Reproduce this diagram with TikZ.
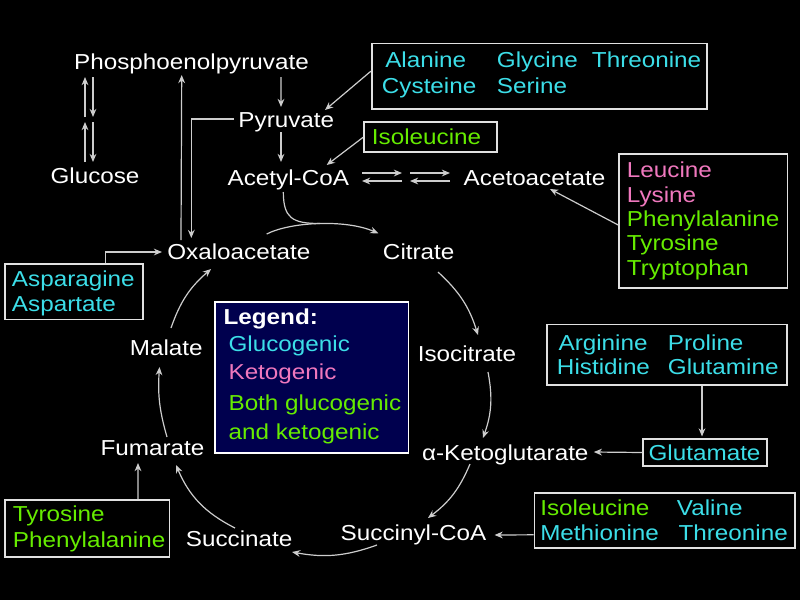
\documentclass[tikz,border=0pt]{standalone}
\usepackage{fontspec}
\setmainfont[FakeStretch=1.12]{Liberation Sans}
\usepackage{tikz}
\usetikzlibrary{arrows.meta,calc}
\definecolor{glucocolor}{RGB}{60,222,232}
\definecolor{ketocolor}{RGB}{240,120,190}
\definecolor{bothcolor}{RGB}{102,236,0}
\definecolor{legendfill}{RGB}{0,0,78}
\definecolor{linegray}{RGB}{205,205,205}
\definecolor{boxgray}{RGB}{225,225,225}
\newlength\pxu
\setlength\pxu{0.025cm}
\newcommand\tcafont{\fontsize{15.4pt}{18pt}\selectfont}

\begin{document}
\begin{tikzpicture}[x=0.025cm, y=-0.025cm,
  metab/.style={text=white, inner sep=0pt, anchor=base, font=\tcafont},
  amino/.style={inner sep=0pt, anchor=base west, font=\tcafont},
  abox/.style={draw=boxgray, line width=1.2pt, inner sep=0pt},
  arr/.style={-{Stealth[length=5.8pt,width=4.8pt]}, draw=linegray, line width=0.85pt},
  lin/.style={draw=linegray, line width=0.85pt}
]
\useasboundingbox (0,0) rectangle (800,600);
\fill[black] (0,0) rectangle (800,600);

% metabolites
\node[metab] (pep) at (191.5,69) {Phosphoenolpyruvate};
\node[metab] (glc) at (95,183) {Glucose};
\node[metab] (pyr) at (286.3,127) {Pyruvate};
\node[metab] (acoa) at (288.3,185) {Acetyl-CoA};
\node[metab] (aca) at (534.5,185.5) {Acetoacetate};
\node[metab] (oaa) at (238.8,259) {Oxaloacetate};
\node[metab] (cit) at (418.7,259) {Citrate};
\node[metab] (icit) at (467,361.7) {Isocitrate};
\node[metab] (akg) at (505.3,460) {α-Ketoglutarate};
\node[metab] (scoa) at (413.5,540.7) {Succinyl-CoA};
\node[metab] (succ) at (239.2,546.7) {Succinate};
\node[metab] (fum) at (152.5,455) {Fumarate};
\node[metab] (mal) at (166.3,355) {Malate};

% amino acid boxes
\node[abox, minimum width=335\pxu, minimum height=65.7\pxu] (agtbox) at (539.2,76.2) {};
\node[amino, text=glucocolor] (ala) at (385,67.7) {Alanine};
\node[amino, text=glucocolor] (gly) at (496.7,67.7) {Glycine};
\node[amino, text=glucocolor] (thra) at (591.7,67.7) {Threonine};
\node[amino, text=glucocolor] (cys) at (381.7,93.3) {Cysteine};
\node[amino, text=glucocolor] (ser) at (496.7,93.3) {Serine};

\node[abox, minimum width=132.7\pxu, minimum height=30\pxu] (ilebox) at (430.3,137.3) {};
\node[amino, text=bothcolor] (ilea) at (371.7,144.3) {Isoleucine};

\node[abox, minimum width=168.3\pxu, minimum height=134\pxu] (llptbox) at (703.2,221.3) {};
\node[amino, text=ketocolor] (leu) at (626.7,177.7) {Leucine};
\node[amino, text=ketocolor] (lys) at (626.7,202.7) {Lysine};
\node[amino, text=bothcolor] (phea) at (626.7,226.7) {Phenylalanine};
\node[amino, text=bothcolor] (tyra) at (626.7,250.7) {Tyrosine};
\node[amino, text=bothcolor] (trp) at (626.7,275) {Tryptophan};

\node[abox, minimum width=137.7\pxu, minimum height=55.3\pxu] (aspbox) at (73.9,291.7) {};
\node[amino, text=glucocolor] (asn) at (11.7,286.7) {Asparagine};
\node[amino, text=glucocolor] (asp) at (11.7,311.7) {Aspartate};

\node[abox, minimum width=239.4\pxu, minimum height=60.7\pxu] (argbox) at (667,354.7) {};
\node[amino, text=glucocolor] (arg) at (558.3,350) {Arginine};
\node[amino, text=glucocolor] (his) at (556.7,374) {Histidine};
\node[amino, text=glucocolor] (pro) at (667.7,350) {Proline};
\node[amino, text=glucocolor] (gln) at (667.7,374) {Glutamine};

\node[abox, minimum width=123.4\pxu, minimum height=26.4\pxu] (glubox) at (705,452.5) {};
\node[amino, text=glucocolor] (glu) at (648.3,460) {Glutamate};

\node[abox, minimum width=260.7\pxu, minimum height=55\pxu] (ivmtbox) at (664.7,520.8) {};
\node[amino, text=bothcolor] (ileb) at (540,515) {Isoleucine};
\node[amino, text=glucocolor] (val) at (676.7,515) {Valine};
\node[amino, text=glucocolor] (metaa) at (540,540.7) {Methionine};
\node[amino, text=glucocolor] (thrb) at (678.3,540.7) {Threonine};

\node[abox, minimum width=164.3\pxu, minimum height=56.7\pxu] (tyrbox) at (87.2,528.3) {};
\node[amino, text=bothcolor] (tyrb) at (12.7,521.7) {Tyrosine};
\node[amino, text=bothcolor] (pheb) at (12.7,547.3) {Phenylalanine};

% legend
\node[abox, draw=white, fill=legendfill, minimum width=193.3\pxu, minimum height=151\pxu] (legbox) at (311.7,377.2) {};
\node[amino, text=white, font=\tcafont\bfseries] (leg) at (223.3,324) {Legend:};
\node[amino, text=glucocolor] (lglu) at (228.3,351.7) {Glucogenic};
\node[amino, text=ketocolor] (lket) at (228.3,379) {Ketogenic};
\node[amino, text=bothcolor] (lbotha) at (228.3,410.7) {Both glucogenic};
\node[amino, text=bothcolor] (lbothb) at (228.3,439.3) {and ketogenic};

% glucose <-> PEP
\draw[arr] ($(pep.base)+(-106.5,48)$) -- ($(pep.base)+(-106.5,8)$);
\draw[arr] ($(pep.base)+(-98.5,8)$) -- ($(pep.base)+(-98.5,48)$);
\draw[arr] ($(glc.base)+(-10,-21)$) -- ($(glc.base)+(-10,-61)$);
\draw[arr] ($(glc.base)+(-2,-61)$) -- ($(glc.base)+(-2,-21)$);

% PEP, pyruvate, acetyl-CoA
\draw[arr] ($(pep.base)+(89.5,8)$) -- ($(pyr.base)+(-5.3,-20)$);
\draw[arr] ($(pyr.base)+(-5.3,5)$) -- ($(acoa.base)+(-7.3,-23)$);
\draw[arr] ($(oaa.base)+(-57.8,-19)$) -- ($(pep.base)+(-9.8,6)$);
\draw[arr] ($(pyr.base west)+(-4,-8)$) -| ($(oaa.base)+(-47.5,-21)$);
\draw[arr] ($(agtbox.west)+(0,-5)$) -- ($(pyr.base)+(38.7,-17)$);
\draw[arr] (ilebox.west) -- ($(acoa.base)+(38.4,-20)$);

% acetyl-CoA <-> acetoacetate
\foreach \dx in {73.7,121.7} {
  \draw[arr] ($(acoa.base)+(\dx,-12)$) -- ++(40,0);
  \draw[arr] ($(acoa.base)+(\dx+40,-4)$) -- ++(-40,0);
}
\draw[arr] ($(llptbox.west)+(0,3.7)$) -- ($(aca.base)+(15.5,3.5)$);

% into citrate
\coordinate (merge) at (320,223.5);
\draw[arr] ($(oaa.base)+(27.9,-25)$) .. controls (290,222) and (345,219) .. ($(cit.base)+(-40.4,-25.7)$);
\draw[lin] ($(acoa.base)+(-5,7)$) .. controls (283.5,218) and (292,223.5) .. (merge);
\draw[arr] ($(aspbox.north east)+(-37.7,0)$) |- ($(oaa.base)+(-76.8,-7)$);

% cycle
\draw[arr] ($(cit.base)+(19.3,13)$) to[bend left=15] ($(icit.base)+(11,-26.7)$);
\draw[arr] ($(icit.base)+(21,10.3)$) to[bend left=15] ($(akg.base)+(-22.3,-22)$);
\draw[arr] ($(akg.base)+(-35.3,4)$) to[bend left=15] ($(scoa.base)+(14.5,-22.7)$);
\draw[arr] ($(scoa.base)+(-36.5,4.3)$) to[bend left=15] ($(succ.base)+(52.8,5.3)$);
\draw[arr] ($(succ.base)+(-4.2,-18.7)$) to[bend left=20] ($(fum.base)+(23.5,10)$);
\draw[arr] ($(fum.base)+(14.5,-18)$) to[bend left=10] ($(mal.base)+(-6.8,12)$);
\draw[arr] ($(mal.base)+(4.7,-27)$) to[bend left=15] ($(oaa.base)+(-27.8,10)$);

% amino acids into the cycle
\draw[arr] ($(argbox.south)+(35,0)$) -- ($(glubox.north)+(-3,-2)$);
\draw[arr] (glubox.west) -- ($(akg.base east)+(5,-8)$);
\draw[arr] ($(ivmtbox.west)+(0,14)$) -- ($(scoa.base east)+(8,-5.7)$);
\draw[arr] ($(tyrbox.north)+(50.8,0)$) -- ($(fum.base)+(-14.5,8)$);
\end{tikzpicture}
\end{document}
